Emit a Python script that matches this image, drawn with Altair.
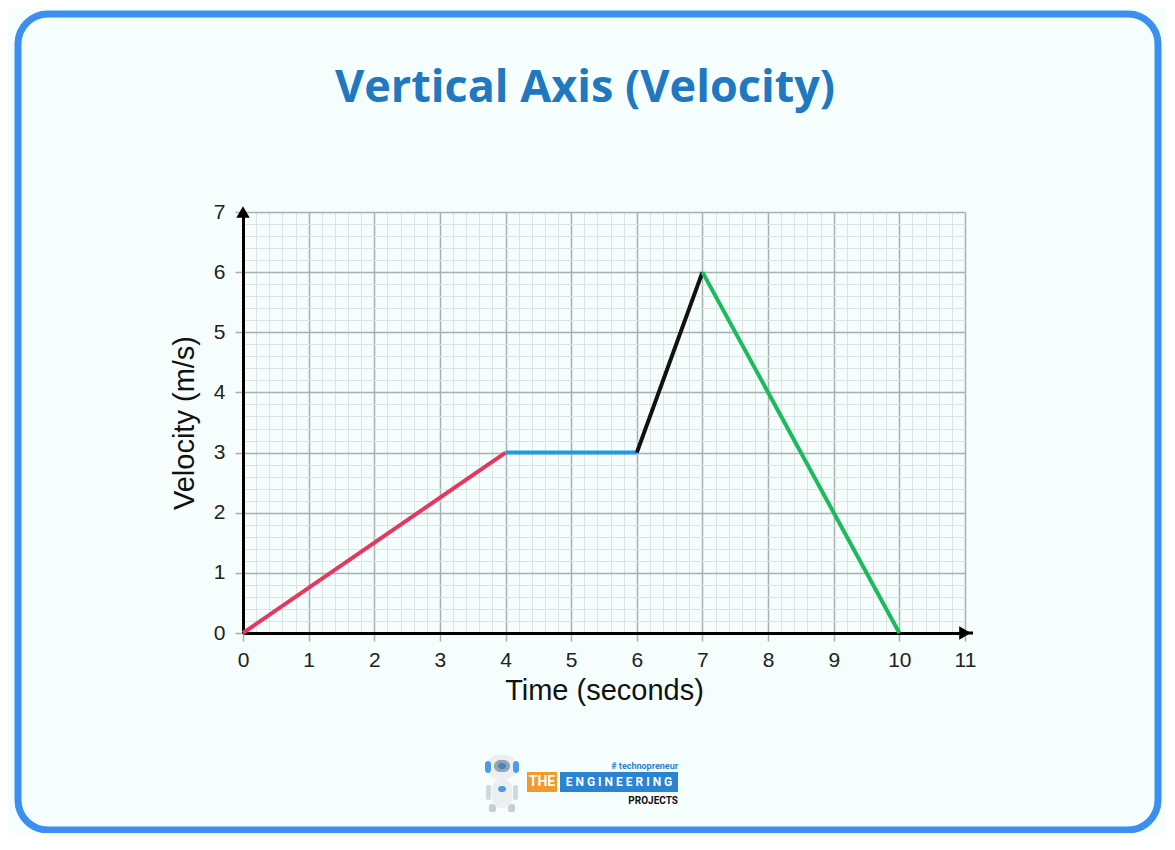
import altair as alt
import pandas as pd

# velocity-time graph
times = [0, 4, 6, 7, 10]
velocity = [0, 3, 3, 6, 0]
segments = ["accelerate", "constant", "accelerate again", "decelerate"]
segment_colors = ["#e8375e", "#1e9be3", "#111111", "#1dba5c"]

x_ticks = list(range(0, 12))
y_ticks = list(range(0, 8))
x_minor = [i / 5 for i in range(0, 56)]
y_minor = [i / 5 for i in range(0, 36)]

rows = []
for i, seg in enumerate(segments):
    rows.append({"t": times[i], "v": velocity[i], "seg": seg, "order": 0})
    rows.append({"t": times[i + 1], "v": velocity[i + 1], "seg": seg, "order": 1})
df = pd.DataFrame(rows)

one = pd.DataFrame({"k": [0]})
xs = alt.Scale(domain=[0, 11], nice=False, zero=False)
ys = alt.Scale(domain=[0, 7], nice=False, zero=False)
FONT = "Liberation Sans"

# outer rounded frame (stroke only, background colour comes from the chart)
frame = alt.Chart(one).mark_rect(
    fillOpacity=0, stroke="#3a8ff0", strokeWidth=7, cornerRadius=30
).encode(x=alt.value(-225), x2=alt.value(915), y=alt.value(-198), y2=alt.value(618))

heading = alt.Chart(one).mark_text(
    text="Vertical Axis (Velocity)", font="Open Sans", fontSize=45, fontWeight="bold",
    color="#1f78c0", align="center", baseline="alphabetic"
).encode(x=alt.value(342), y=alt.value(-110))

# minor grid (0.2 steps)
minor = alt.Chart(df).mark_line(opacity=0).encode(
    x=alt.X("t:Q", scale=xs, axis=alt.Axis(orient="top", values=x_minor, labels=False, ticks=False,
                                          domain=False, grid=True, gridColor="#dce3e3", gridWidth=1, title=None)),
    y=alt.Y("v:Q", scale=ys, axis=alt.Axis(orient="right", values=y_minor, labels=False, ticks=False,
                                          domain=False, grid=True, gridColor="#dce3e3", gridWidth=1, title=None)),
)

lines = alt.Chart(df).mark_line(strokeWidth=4).encode(
    x=alt.X("t:Q", scale=xs, axis=alt.Axis(
        orient="bottom", values=x_ticks, grid=True, gridColor="#a9b0b0", gridWidth=1.5,
        domainColor="#000000", domainWidth=3, tickColor="#a9b0b0", tickSize=8, tickWidth=1.5,
        labelFont=FONT, labelFontSize=21, labelColor="#222222", labelPadding=8, labelFlush=False,
        title="Time (seconds)", titleFont=FONT, titleFontSize=29, titleFontWeight="normal",
        titleColor="#111111", titlePadding=6)),
    y=alt.Y("v:Q", scale=ys, axis=alt.Axis(
        orient="left", values=y_ticks, grid=True, gridColor="#a9b0b0", gridWidth=1.5,
        domainColor="#000000", domainWidth=3, tickColor="#a9b0b0", tickSize=8, tickWidth=1.5,
        labelFont=FONT, labelFontSize=21, labelColor="#222222", labelPadding=10, labelFlush=False,
        title="Velocity (m/s)", titleFont=FONT, titleFontSize=29, titleFontWeight="normal",
        titleColor="#111111", titlePadding=14)),
    color=alt.Color("seg:N", scale=alt.Scale(domain=segments, range=segment_colors), legend=None),
    detail="seg:N",
    order="order:Q",
)

arrow_df = pd.DataFrame({"t": [11, 0], "v": [0, 7], "shape": ["triangle-right", "triangle-up"]})
arrows = alt.Chart(arrow_df).mark_point(filled=True, color="#000000", opacity=1, size=180).encode(
    x=alt.X("t:Q", scale=xs, axis=None),
    y=alt.Y("v:Q", scale=ys, axis=None),
    shape=alt.Shape("shape:N", scale=None, legend=None),
)
arrow_ext = alt.Chart(one).mark_rule(color="#000000", strokeWidth=3).encode(
    x=alt.value(722), x2=alt.value(730), y=alt.value(421))

# logo at the bottom
def box(x, x2, y, y2, fill, r=0):
    return alt.Chart(one).mark_rect(fill=fill, cornerRadius=r).encode(
        x=alt.value(x), x2=alt.value(x2), y=alt.value(y), y2=alt.value(y2))

def label(txt, x, y, size, color, align="center", weight="bold"):
    return alt.Chart(one).mark_text(text=txt, fontSize=size, color=color, align=align,
                                    baseline="middle", fontWeight=weight, font="Roboto").encode(
        x=alt.value(x), y=alt.value(y))

logo = [
    # robot
    box(246, 253, 592, 600, "#c9ced3", 2),
    box(265, 272, 592, 600, "#c9ced3", 2),
    box(243, 248, 573, 588, "#d3d8dc", 2),
    box(270, 275, 573, 588, "#d3d8dc", 2),
    box(249, 269, 567, 596, "#eceff2", 9),
    box(244, 274, 543, 567, "#eceff2", 11),
    box(242, 248, 549, 561, "#4a9be8", 3),
    box(270, 276, 549, 561, "#4a9be8", 3),
    box(251, 267, 548, 560, "#9aa3ab", 6),
    box(255, 263, 551, 557, "#3f86d0", 3),
    box(255, 263, 574, 580, "#4a9be8", 3),
    # wordmark
    box(284, 314, 560, 580, "#f39a2b"),
    box(317, 435, 560, 580, "#2a84d2"),
    label("THE", 299, 570, 14, "#ffffff"),
    label("E N G I N E E R I N G", 376, 570, 12, "#ffffff"),
    label("# technopreneur", 435, 554, 9, "#2a84d2", align="right"),
    label("PROJECTS", 435, 589, 10, "#111111", align="right"),
]

chart = alt.layer(frame, heading, minor, lines, arrow_ext, arrows, *logo).resolve_axis(
    x="independent", y="independent"
).properties(
    width=722, height=421,
    autosize=alt.AutoSizeParams(type="none"),
    padding={"left": 235, "top": 204, "right": 200, "bottom": 200},
    background="#f5fefc",
).configure_view(stroke=None)

chart.save("out.html", embed_options={"renderer": "svg", "actions": False})
